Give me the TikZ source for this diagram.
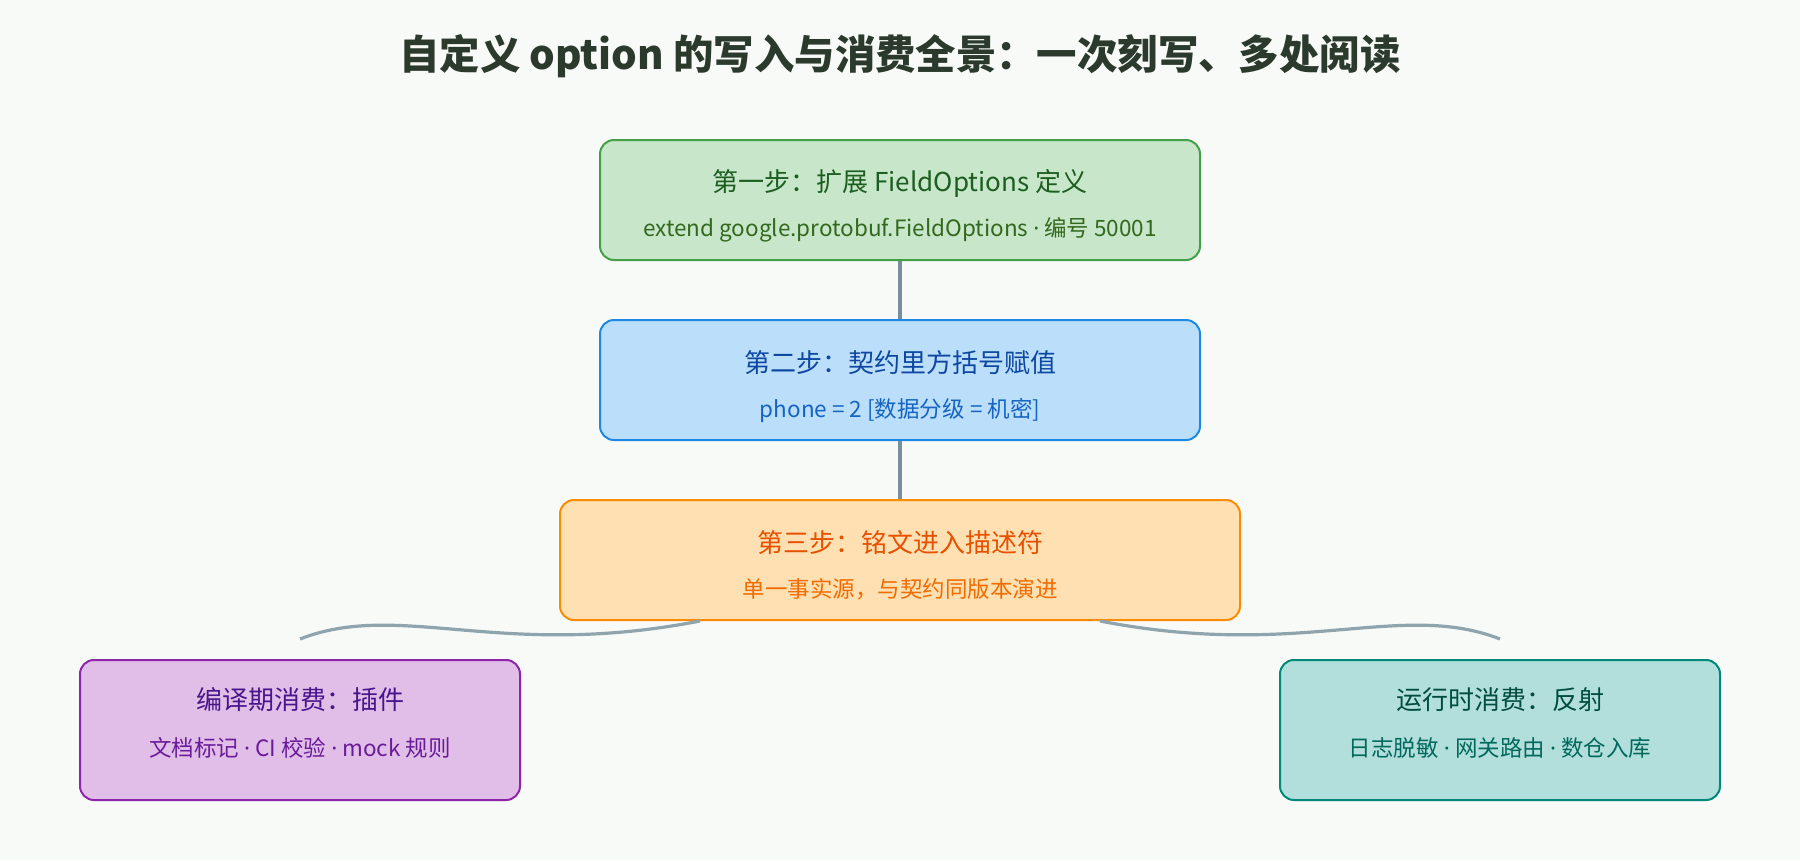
\documentclass[tikz,border=0pt]{standalone}
\usepackage{fontspec}
\setmainfont{Noto Sans CJK SC}
\newfontfamily\dotfont{Noto Sans}
\newcommand{\mydot}{{\dotfont ·}}
\usetikzlibrary{calc}
\definecolor{bg}{HTML}{F8FAF8}
\definecolor{titlec}{HTML}{2B3A2C}
\definecolor{linkv}{HTML}{78909C}
\definecolor{linkc}{HTML}{90A4AE}
\definecolor{gfill}{HTML}{C8E6C9}\definecolor{gdraw}{HTML}{43A047}\definecolor{gtA}{HTML}{1B5E20}\definecolor{gtB}{HTML}{33691E}
\definecolor{bfill}{HTML}{BBDEFB}\definecolor{bdraw}{HTML}{1E88E5}\definecolor{btA}{HTML}{0D47A1}\definecolor{btB}{HTML}{1565C0}
\definecolor{ofill}{HTML}{FFE0B2}\definecolor{odraw}{HTML}{FB8C00}\definecolor{otA}{HTML}{E65100}\definecolor{otB}{HTML}{EF6C00}
\definecolor{pfill}{HTML}{E1BEE7}\definecolor{pdraw}{HTML}{8E24AA}\definecolor{ptA}{HTML}{4A148C}\definecolor{ptB}{HTML}{6A1B9A}
\definecolor{tfill}{HTML}{B2DFDB}\definecolor{tdraw}{HTML}{00897B}\definecolor{ttA}{HTML}{004D40}\definecolor{ttB}{HTML}{00695C}
\tikzset{
  box/.style={draw, line width=2pt, rounded corners=14pt, inner sep=0pt},
  headtext/.style={inner sep=0pt, font=\fontsize{26}{30}\selectfont, text height=22.9pt, text depth=3.1pt},
  subtext/.style={inner sep=0pt, font=\fontsize{22.5}{27}\selectfont, text height=19.8pt, text depth=2.7pt},
  titletext/.style={inner sep=0pt, font=\fontsize{40.4}{46}\selectfont\bfseries, text height=35.5pt, text depth=4.9pt},
  vlink/.style={draw=linkv, line width=4pt},
  clink/.style={draw=linkc, line width=3.2pt},
}
\begin{document}
\begin{tikzpicture}[x=1pt,y=-1pt]
\fill[bg] (0,0) rectangle (1800,860);
\useasboundingbox (0,0) rectangle (1800,860);

\node[titletext, text=titlec] (title) at (900,54) {自定义 option 的写入与消费全景：一次刻写、多处阅读};

\node[box, draw=gdraw, fill=gfill, minimum width=600pt, minimum height=120pt] (s1) at (900,200) {};
\node[box, draw=bdraw, fill=bfill, minimum width=600pt, minimum height=120pt] (s2) at (900,380) {};
\node[box, draw=odraw, fill=ofill, minimum width=680pt, minimum height=120pt] (s3) at (900,560) {};
\node[box, draw=pdraw, fill=pfill, minimum width=440pt, minimum height=140pt] (c1) at (300,730) {};
\node[box, draw=tdraw, fill=tfill, minimum width=440pt, minimum height=140pt] (c2) at (1500,730) {};

\node[headtext, text=gtA] (s1a) at (900,182) {第一步：扩展 FieldOptions 定义};
\node[subtext, text=gtB] (s1b) at (900,228) {extend google.protobuf.FieldOptions \mydot{} 编号 50001};
\node[headtext, text=btA] (s2a) at (900,363) {第二步：契约里方括号赋值};
\node[subtext, text=btB] (s2b) at (900,409) {phone = 2 [数据分级 = 机密]};
\node[headtext, text=otA] (s3a) at (900,543) {第三步：铭文进入描述符};
\node[subtext, text=otB] (s3b) at (900,589) {单一事实源，与契约同版本演进};
\node[headtext, text=ptA] (c1a) at (300,700) {编译期消费：插件};
\node[subtext, text=ptB] (c1b) at (300,748) {文档标记 \mydot{} CI 校验 \mydot{} mock 规则};
\node[headtext, text=ttA] (c2a) at (1500,700) {运行时消费：反射};
\node[subtext, text=ttB] (c2b) at (1500,748) {日志脱敏 \mydot{} 网关路由 \mydot{} 数仓入库};

\draw[vlink] (s1.south) -- (s2.north);
\draw[vlink] (s2.south) -- (s3.north);

\coordinate (l0) at ($(s3.south)+(-200,0)$);
\coordinate (l1) at ($(c1.north)+(0,-20)$);
\coordinate (r0) at ($(s3.south)+(200,0)$);
\coordinate (r1) at ($(c2.north)+(0,-20)$);
\draw[clink] (l0) .. controls (500,660) and (400,600) .. (l1);
\draw[clink] (r0) .. controls (1300,660) and (1400,600) .. (r1);
\end{tikzpicture}
\end{document}
